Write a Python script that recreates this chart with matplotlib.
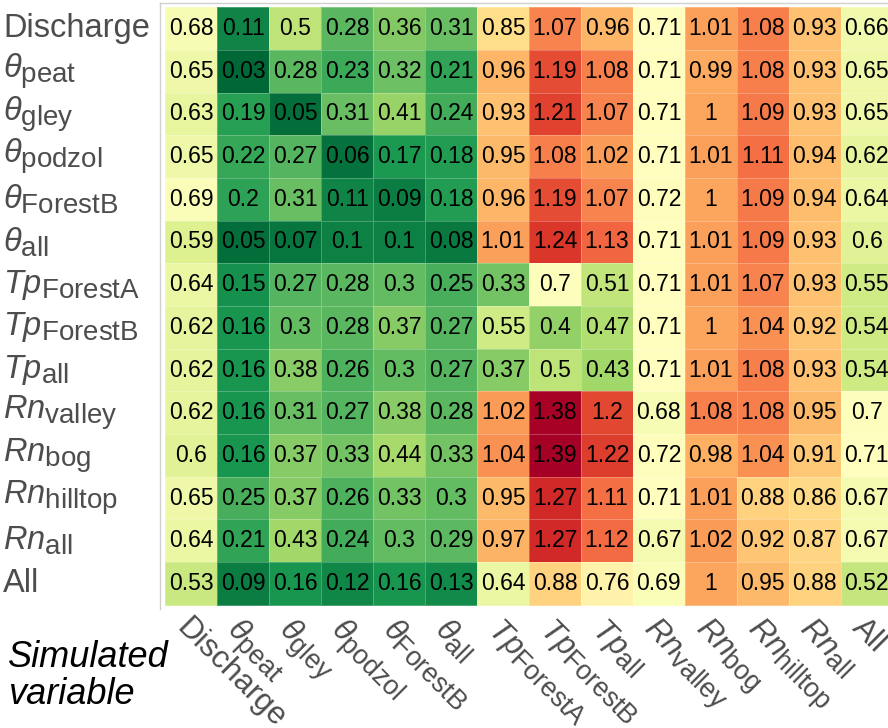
"""Cross-variable error heatmap: calibrated on one variable, scored on another."""

import matplotlib.pyplot as plt
import numpy as np
from matplotlib import _mathtext

plt.rcParams["font.family"] = ["Liberation Sans", "DejaVu Sans"]
plt.rcParams["mathtext.fontset"] = "custom"
plt.rcParams["mathtext.rm"] = "Liberation Sans"
plt.rcParams["mathtext.it"] = "Liberation Sans:italic"
# the original labels use larger subscripts than mathtext's default
_mathtext.SHRINK_FACTOR = 0.85

variables = [
    "Discharge",
    r"$\theta_{\mathrm{peat}}$",
    r"$\theta_{\mathrm{gley}}$",
    r"$\theta_{\mathrm{podzol}}$",
    r"$\theta_{\mathrm{ForestB}}$",
    r"$\theta_{\mathrm{all}}$",
    r"$Tp_{\mathrm{ForestA}}$",
    r"$Tp_{\mathrm{ForestB}}$",
    r"$Tp_{\mathrm{all}}$",
    r"$Rn_{\mathrm{valley}}$",
    r"$Rn_{\mathrm{bog}}$",
    r"$Rn_{\mathrm{hilltop}}$",
    r"$Rn_{\mathrm{all}}$",
    "All",
]

# rows follow the y axis (top to bottom), columns the simulated variable
values = np.array([
    [0.68, 0.11, 0.50, 0.28, 0.36, 0.31, 0.85, 1.07, 0.96, 0.71, 1.01, 1.08, 0.93, 0.66],
    [0.65, 0.03, 0.28, 0.23, 0.32, 0.21, 0.96, 1.19, 1.08, 0.71, 0.99, 1.08, 0.93, 0.65],
    [0.63, 0.19, 0.05, 0.31, 0.41, 0.24, 0.93, 1.21, 1.07, 0.71, 1.00, 1.09, 0.93, 0.65],
    [0.65, 0.22, 0.27, 0.06, 0.17, 0.18, 0.95, 1.08, 1.02, 0.71, 1.01, 1.11, 0.94, 0.62],
    [0.69, 0.20, 0.31, 0.11, 0.09, 0.18, 0.96, 1.19, 1.07, 0.72, 1.00, 1.09, 0.94, 0.64],
    [0.59, 0.05, 0.07, 0.10, 0.10, 0.08, 1.01, 1.24, 1.13, 0.71, 1.01, 1.09, 0.93, 0.60],
    [0.64, 0.15, 0.27, 0.28, 0.30, 0.25, 0.33, 0.70, 0.51, 0.71, 1.01, 1.07, 0.93, 0.55],
    [0.62, 0.16, 0.30, 0.28, 0.37, 0.27, 0.55, 0.40, 0.47, 0.71, 1.00, 1.04, 0.92, 0.54],
    [0.62, 0.16, 0.38, 0.26, 0.30, 0.27, 0.37, 0.50, 0.43, 0.71, 1.01, 1.08, 0.93, 0.54],
    [0.62, 0.16, 0.31, 0.27, 0.38, 0.28, 1.02, 1.38, 1.20, 0.68, 1.08, 1.08, 0.95, 0.70],
    [0.60, 0.16, 0.37, 0.33, 0.44, 0.33, 1.04, 1.39, 1.22, 0.72, 0.98, 1.04, 0.91, 0.71],
    [0.65, 0.25, 0.37, 0.26, 0.33, 0.30, 0.95, 1.27, 1.11, 0.71, 1.01, 0.88, 0.86, 0.67],
    [0.64, 0.21, 0.43, 0.24, 0.30, 0.29, 0.97, 1.27, 1.12, 0.67, 1.02, 0.92, 0.87, 0.67],
    [0.53, 0.09, 0.16, 0.12, 0.16, 0.13, 0.64, 0.88, 0.76, 0.69, 1.00, 0.95, 0.88, 0.52],
])

GRAY = "#4d4d4d"

fig = plt.figure(figsize=(8.88, 7.28), dpi=100)
# the panel runs a little past the right edge, as in the original crop
ax = fig.add_axes([160 / 888, 119 / 728, 738 / 888, 606 / 728])

n_rows, n_cols = values.shape
ax.pcolormesh(
    np.arange(n_cols + 1) - 0.5,
    np.arange(n_rows + 1) - 0.5,
    values,
    cmap="RdYlGn_r",
    vmin=values.min(),
    vmax=values.max(),
    edgecolors=(1, 1, 1, 0.25),
    linewidth=0.6,
)
for i in range(n_rows):
    for j in range(n_cols):
        ax.text(j, i, f"{round(values[i, j], 2):g}", ha="center", va="center",
                fontsize=16.5, color="black")

ax.set_xlim(-0.6, n_cols - 0.4)
ax.set_ylim(n_rows - 0.4, -0.6)

ax.set_yticks(range(n_rows))
ax.set_yticklabels(variables, ha="left", va="center", fontsize=23.5, color=GRAY)
ax.tick_params(axis="y", length=0, pad=113)

ax.set_xticks(range(n_cols))
ax.set_xticklabels(variables, rotation=-45, ha="left", va="top",
                   rotation_mode="anchor", fontsize=22.5, color=GRAY)
ax.tick_params(axis="x", length=0, pad=3)

for side in ("right", "bottom"):
    ax.spines[side].set_visible(False)
for side in ("left", "top"):
    ax.spines[side].set_color("#d0d0d0")
    ax.spines[side].set_linewidth(1.0)

fig.text(8 / 888, 1 - 640 / 728, "Simulated\nvariable", ha="left", va="top",
         fontsize=26, style="italic", color="black", linespacing=1.08)

fig.savefig("out.png", dpi=100)
